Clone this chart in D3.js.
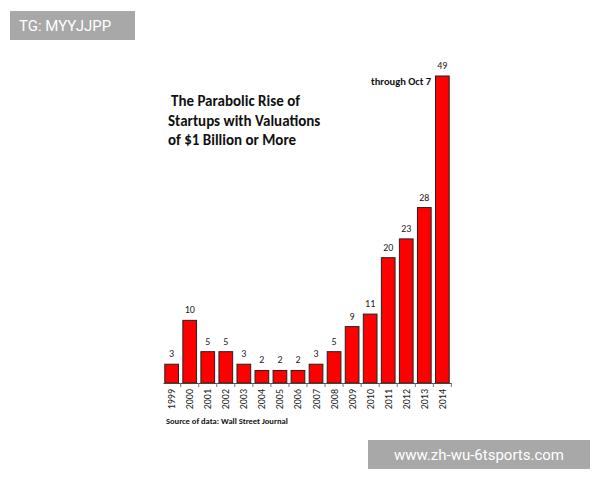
<!DOCTYPE html>
<html><head><meta charset="utf-8">
<script src="https://cdn.jsdelivr.net/npm/d3@7"></script>
<style>body{margin:0;background:#fff}</style>
</head><body>
<svg id="c" width="600" height="480"></svg>
<script>
var years = ['1999','2000','2001','2002','2003','2004','2005','2006','2007','2008','2009','2010','2011','2012','2013','2014'];
var counts = [3, 10, 5, 5, 3, 2, 2, 2, 3, 5, 9, 11, 20, 23, 28, 49];
var titleLines = ['The Parabolic Rise of', 'Startups with Valuations', 'of $1 Billion or More'];

var svg = d3.select('#c');
var font = 'Calibri, Carlito, "Open Sans", sans-serif';

var x = d3.scaleBand().domain(years).range([163, 451]).paddingInner(0.24).paddingOuter(0.1);
var y = d3.scaleLinear().domain([0, 49]).range([383, 76]);

svg.selectAll('rect.bar').data(counts).enter().append('rect')
    .attr('class', 'bar')
    .attr('x', function(d, i) { return x(years[i]); })
    .attr('y', function(d) { return y(d); })
    .attr('width', x.bandwidth())
    .attr('height', function(d) { return y(0) - y(d); })
    .attr('fill', '#ff0000').attr('stroke', '#222').attr('stroke-width', 1);

svg.selectAll('text.val').data(counts).enter().append('text')
    .attr('x', function(d, i) { return x(years[i]) + x.bandwidth() / 2; })
    .attr('y', function(d) { return y(d) - 7; })
    .attr('text-anchor', 'middle').attr('font-family', font).attr('font-size', 10).attr('fill', '#222')
    .text(function(d) { return d; });

var axis = svg.append('g').attr('transform', 'translate(0,383)')
    .call(d3.axisBottom(x).tickSize(4).tickSizeOuter(0));
axis.select('.domain').attr('stroke', '#444');
axis.selectAll('.tick line').attr('stroke', '#777').attr('transform', 'translate(' + (x.step() / 2) + ',0)');
axis.selectAll('.tick text')
    .attr('font-family', font).attr('font-size', 10).attr('fill', '#222')
    .attr('transform', 'rotate(-90)').attr('text-anchor', 'end')
    .attr('x', -6).attr('y', 0).attr('dy', '0.35em');

svg.selectAll('text.title').data(titleLines).enter().append('text')
    .attr('x', function(d, i) { return i === 0 ? 171 : 168; })
    .attr('y', function(d, i) { return 106 + i * 19.5; })
    .attr('font-family', font).attr('font-weight', 'bold').attr('font-size', 15).attr('fill', '#111')
    .text(function(d) { return d; });

svg.append('text').attr('x', 431).attr('y', 85).attr('text-anchor', 'end')
    .attr('font-family', font).attr('font-weight', 'bold').attr('font-size', 10.5).attr('fill', '#111')
    .text('through Oct 7');

svg.append('text').attr('x', 166).attr('y', 424)
    .attr('font-family', font).attr('font-weight', 'bold').attr('font-size', 8.5).attr('fill', '#111')
    .text('Source of data: Wall Street Journal');

// watermarks
svg.append('rect').attr('x', 10).attr('y', 11).attr('width', 125).attr('height', 29).attr('fill', '#a8a8a8');
svg.append('text').attr('x', 19).attr('y', 31).attr('font-family', 'Roboto, sans-serif').attr('font-size', 15)
    .attr('fill', '#fff').text('TG: MYYJJPP');
svg.append('rect').attr('x', 368).attr('y', 440).attr('width', 222).attr('height', 29).attr('fill', '#a8a8a8');
svg.append('text').attr('x', 479).attr('y', 460).attr('text-anchor', 'middle').attr('font-family', 'Roboto, sans-serif')
    .attr('font-size', 15).attr('fill', '#fff').text('www.zh-wu-6tsports.com');
</script>
</body></html>
